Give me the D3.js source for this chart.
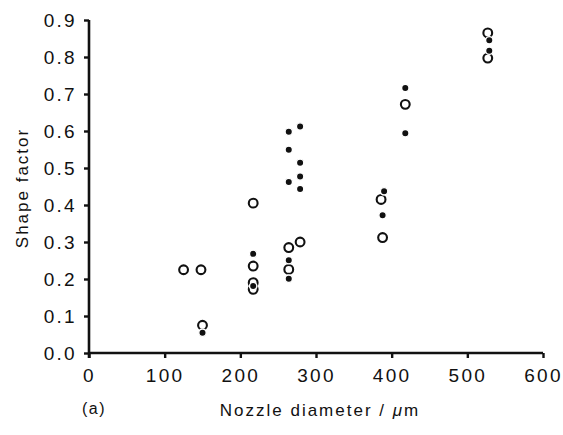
<!DOCTYPE html>
<html lang="en">
<head>
    <meta charset="UTF-8">
    <title>Shape factor vs nozzle diameter</title>
    <script src="https://d3js.org/d3.v7.min.js"></script>
    <style>
        body { margin: 0; background: #fff; }
        svg text { font-family: "Liberation Sans", Arial, sans-serif; fill: #111; }
    </style>
</head>
<body>
    <div id="chart"></div>

    <script>
        // nozzle diameter (um), shape factor
        const openPoints = [
            [125, 0.225], [148, 0.225], [150, 0.075],
            [217, 0.405], [217, 0.235], [217, 0.19], [217, 0.172],
            [264, 0.285], [264, 0.226],
            [279, 0.300],
            [386, 0.415], [388, 0.312],
            [418, 0.672],
            [527, 0.865], [527, 0.797]
        ];
        const filledPoints = [
            [150, 0.055],
            [217, 0.268], [217, 0.181],
            [264, 0.598], [264, 0.549], [264, 0.462], [264, 0.251], [264, 0.201],
            [279, 0.612], [279, 0.514], [279, 0.477], [279, 0.443],
            [390, 0.437], [388, 0.372],
            [418, 0.716], [418, 0.594],
            [529, 0.845], [529, 0.817]
        ];
        const xTicks = [0, 100, 200, 300, 400, 500, 600];
        const yTicks = [0, 0.1, 0.2, 0.3, 0.4, 0.5, 0.6, 0.7, 0.8, 0.9];

        const width = 563, height = 435;
        const svg = d3.select('#chart').append('svg')
            .attr('width', width)
            .attr('height', height);

        const x = d3.scaleLinear().domain([0, 600]).range([89, 543]);
        const y = d3.scaleLinear().domain([0, 0.9]).range([353, 20]);

        const xAxis = svg.append('g')
            .attr('transform', `translate(0,${y(0)})`)
            .call(d3.axisBottom(x).tickValues(xTicks).tickSize(5).tickPadding(11).tickFormat(d3.format('d')));
        const yAxis = svg.append('g')
            .attr('transform', `translate(${x(0)},0)`)
            .call(d3.axisLeft(y).tickValues(yTicks).tickSize(5).tickPadding(7).tickFormat(d3.format('.1f')));

        [xAxis, yAxis].forEach(g => {
            g.select('.domain').attr('stroke', '#111').attr('stroke-width', 2.6);
            g.selectAll('.tick line').attr('stroke', '#111').attr('stroke-width', 2.4);
            g.selectAll('.tick text').attr('font-size', 19).attr('fill', '#111')
                .attr('letter-spacing', '2.3px')
                .attr('font-family', '"Liberation Sans", Arial, sans-serif');
        });
        // no outer end-caps on the domain
        xAxis.select('.domain').attr('d', `M${x(0)},0H${x(600)}`);
        yAxis.select('.domain').attr('d', `M0,${y(0) + 5}V${y(0.9)}`);

        // open circles
        svg.append('g').selectAll('circle')
            .data(openPoints)
            .join('circle')
            .attr('cx', d => x(d[0]))
            .attr('cy', d => y(d[1]))
            .attr('r', 4.4)
            .attr('fill', 'none')
            .attr('stroke', '#111')
            .attr('stroke-width', 2.1);

        // filled dots, white halo cuts the rings they sit on
        svg.append('g').selectAll('circle')
            .data(filledPoints)
            .join('circle')
            .attr('cx', d => x(d[0]))
            .attr('cy', d => y(d[1]))
            .attr('r', 3.7)
            .attr('fill', '#111')
            .attr('stroke', '#fff')
            .attr('stroke-width', 1.4);

        svg.append('text')
            .attr('x', 320)
            .attr('y', 416)
            .attr('text-anchor', 'middle')
            .attr('font-size', 17)
            .attr('letter-spacing', '2px')
            .html('Nozzle diameter / <tspan font-style="italic">μ</tspan>m');

        svg.append('text')
            .attr('x', 82)
            .attr('y', 414)
            .attr('font-size', 16)
            .attr('letter-spacing', '1.5px')
            .text('(a)');

        svg.append('text')
            .attr('transform', 'translate(28,188) rotate(-90)')
            .attr('text-anchor', 'middle')
            .attr('font-size', 17)
            .attr('letter-spacing', '2px')
            .text('Shape factor');
    </script>
</body>
</html>
